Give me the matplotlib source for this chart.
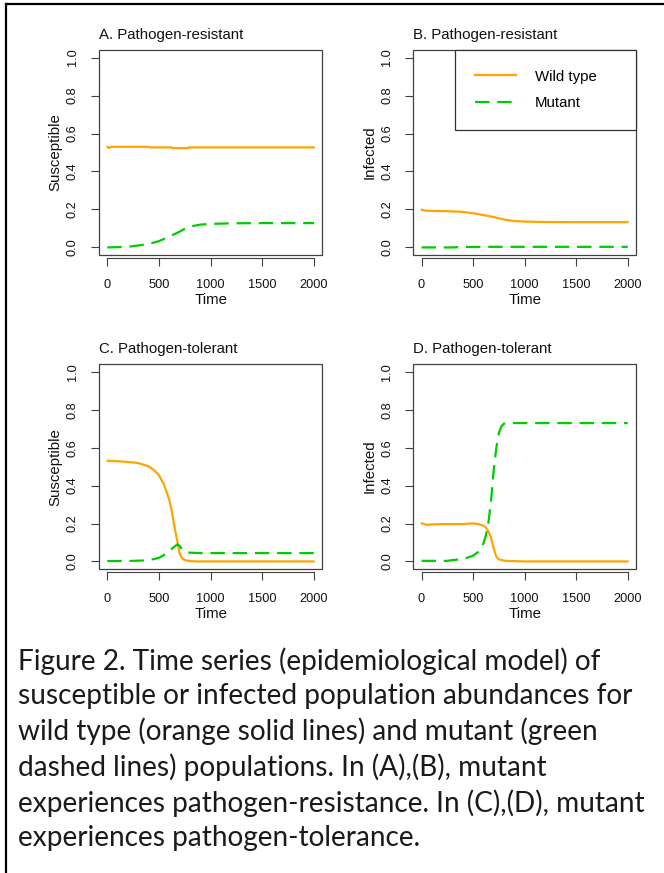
import matplotlib
matplotlib.use("Agg")
import matplotlib.pyplot as plt
from matplotlib.patches import Rectangle
from matplotlib.lines import Line2D

plt.rcParams['font.family'] = ['Liberation Sans', 'DejaVu Sans']

ORANGE = '#FFA500'
GREEN = '#00CD00'
AXC = '#404040'

# ---------------- data ----------------
# Panel A: susceptible, pathogen-resistant
tA_wt = [0, 20, 40, 400, 410, 620, 630, 780, 790, 2000]
yA_wt = [0.530, 0.524, 0.530, 0.530, 0.527, 0.527, 0.523, 0.523, 0.527, 0.527]
tA_mu = [0, 200, 250, 300, 400, 500, 600, 700, 750, 800, 900, 1000, 1200, 1500, 2000]
yA_mu = [0.0, 0.003, 0.007, 0.010, 0.018, 0.033, 0.057, 0.083, 0.098, 0.110, 0.120, 0.124, 0.127, 0.128, 0.128]

# Panel B: infected, pathogen-resistant
tB_wt = [0, 40, 250, 380, 500, 600, 700, 750, 830, 900, 1000, 1150, 1500, 2000]
yB_wt = [0.199, 0.193, 0.191, 0.188, 0.180, 0.170, 0.160, 0.153, 0.144, 0.139, 0.136, 0.134, 0.133, 0.133]
tB_mu = [0, 300, 400, 600, 1000, 2000]
yB_mu = [0.0, 0.0, 0.002, 0.003, 0.003, 0.003]

# Panel C: susceptible, pathogen-tolerant
tC_wt = [0, 100, 250, 300, 400, 450, 500, 550, 600, 625, 650, 675, 700, 725, 750, 800, 850, 2000]
yC_wt = [0.531, 0.529, 0.522, 0.519, 0.501, 0.483, 0.455, 0.404, 0.325, 0.263, 0.183, 0.113, 0.042, 0.016, 0.007, 0.002, 0.0, 0.0]
tC_mu = [0, 250, 350, 450, 500, 550, 600, 650, 680, 700, 725, 750, 800, 900, 2000]
yC_mu = [0.002, 0.003, 0.005, 0.012, 0.019, 0.034, 0.055, 0.078, 0.090, 0.081, 0.063, 0.051, 0.046, 0.044, 0.044]

# Panel D: infected, pathogen-tolerant
tD_wt = [0, 50, 100, 200, 400, 500, 550, 600, 625, 650, 675, 700, 725, 750, 800, 850, 1000, 2000]
yD_wt = [0.201, 0.193, 0.195, 0.197, 0.197, 0.201, 0.197, 0.189, 0.178, 0.157, 0.122, 0.069, 0.025, 0.011, 0.004, 0.002, 0.0, 0.0]
tD_mu = [0, 250, 300, 400, 500, 550, 600, 625, 650, 675, 700, 725, 750, 775, 800, 850, 2000]
yD_mu = [0.003, 0.003, 0.007, 0.012, 0.030, 0.051, 0.095, 0.139, 0.210, 0.325, 0.483, 0.598, 0.677, 0.713, 0.727, 0.730, 0.730]

titles = ["A. Pathogen-resistant", "B. Pathogen-resistant",
          "C. Pathogen-tolerant", "D. Pathogen-tolerant"]
ylabels = ["Susceptible", "Infected", "Susceptible", "Infected"]
xlabel = "Time"
xticks = [0, 500, 1000, 1500, 2000]
yticks = [0.0, 0.2, 0.4, 0.6, 0.8, 1.0]
legend_labels = ["Wild type", "Mutant"]

caption = ("Figure 2. Time series (epidemiological model) of\n"
           "susceptible or infected population abundances for\n"
           "wild type (orange solid lines) and mutant (green\n"
           "dashed lines) populations. In (A),(B), mutant\n"
           "experiences pathogen-resistance. In (C),(D), mutant\n"
           "experiences pathogen-tolerance.")

series = [
    (tA_wt, yA_wt, tA_mu, yA_mu),
    (tB_wt, yB_wt, tB_mu, yB_mu),
    (tC_wt, yC_wt, tC_mu, yC_mu),
    (tD_wt, yD_wt, tD_mu, yD_mu),
]

# ---------------- layout ----------------
W, H = 664, 873
fig = plt.figure(figsize=(W / 100, H / 100), dpi=100)

# pixel boxes: (left, top, right, bottom)
boxes = [(99, 50, 322.3, 255), (413.3, 50, 636, 255),
         (99, 364.3, 322.3, 569), (413.3, 364.3, 636, 569)]

TICK_FS = 9.2
LAB_FS = 10.8
TITLE_FS = 10.8
dash = (6.5, 3.5)

for i, (l, t, r, b) in enumerate(boxes):
    ax = fig.add_axes([l / W, (H - b) / H, (r - l) / W, (b - t) / H])
    twt, ywt, tmu, ymu = series[i]
    ax.plot(twt, ywt, color=ORANGE, lw=1.6, solid_capstyle='round', zorder=3)
    ax.plot(tmu, ymu, color=GREEN, lw=1.6, dashes=dash, zorder=3)
    ax.set_xlim(-80, 2080)
    ax.set_ylim(-0.04, 1.04)
    for s in ['top', 'right', 'left']:
        ax.spines[s].set_visible(False)
    ax.spines['bottom'].set_position(('outward', 2))
    ax.spines['bottom'].set_bounds(0, 2000)
    ax.spines['bottom'].set_color(AXC)
    ax.spines['bottom'].set_linewidth(0.8)
    ax.add_patch(Rectangle((0, 0), 1, 1, transform=ax.transAxes, fill=False,
                           edgecolor=AXC, lw=0.9, clip_on=False, zorder=4))
    ax.set_xticks(xticks)
    ax.set_xticklabels([str(v) for v in xticks])
    ax.set_yticks(yticks)
    ax.set_yticklabels([f"{v:.1f}" for v in yticks], rotation=90, va='center')
    ax.tick_params(axis='both', direction='out', length=5.5, width=0.8,
                   color=AXC, labelsize=TICK_FS, labelcolor='#111111')
    ax.tick_params(axis='x', pad=10)
    ax.tick_params(axis='y', pad=9)
    ax.set_xlabel(xlabel, fontsize=LAB_FS, labelpad=1.5, color='#111111')
    ax.set_ylabel(ylabels[i], fontsize=LAB_FS, labelpad=3, color='#111111')
    ax.set_title(titles[i], fontsize=TITLE_FS, loc='left', pad=8, color='#111111')

    if i == 1:
        handles = [Line2D([], [], color=ORANGE, lw=1.6),
                   Line2D([], [], color=GREEN, lw=1.6, dashes=dash)]
        x0 = (455 - l) / (r - l)
        leg = ax.legend(handles, legend_labels, loc='upper right',
                        bbox_to_anchor=(x0, 0, 1 - x0, 1), mode='expand',
                        borderaxespad=0, fancybox=False, framealpha=1,
                        edgecolor='#333333', fontsize=LAB_FS,
                        borderpad=1.3, handlelength=2.75, handletextpad=1.3,
                        labelspacing=0.85)
        leg.get_frame().set_linewidth(0.9)

# caption
fig.text(18 / W, 1 - 647.5 / H, caption, family=['Lato', 'DejaVu Sans'],
         fontsize=20.2, va='top', ha='left', linespacing=1.37, color='#1a1a1a')

# outer frame (left and top edges)
fig.add_artist(Line2D([6 / W, 6 / W], [0, 1 - 4 / H], transform=fig.transFigure,
                      color='black', lw=1.6))
fig.add_artist(Line2D([6 / W, 1], [1 - 4 / H, 1 - 4 / H], transform=fig.transFigure,
                      color='black', lw=1.6))

fig.savefig("out.png", dpi=100)
